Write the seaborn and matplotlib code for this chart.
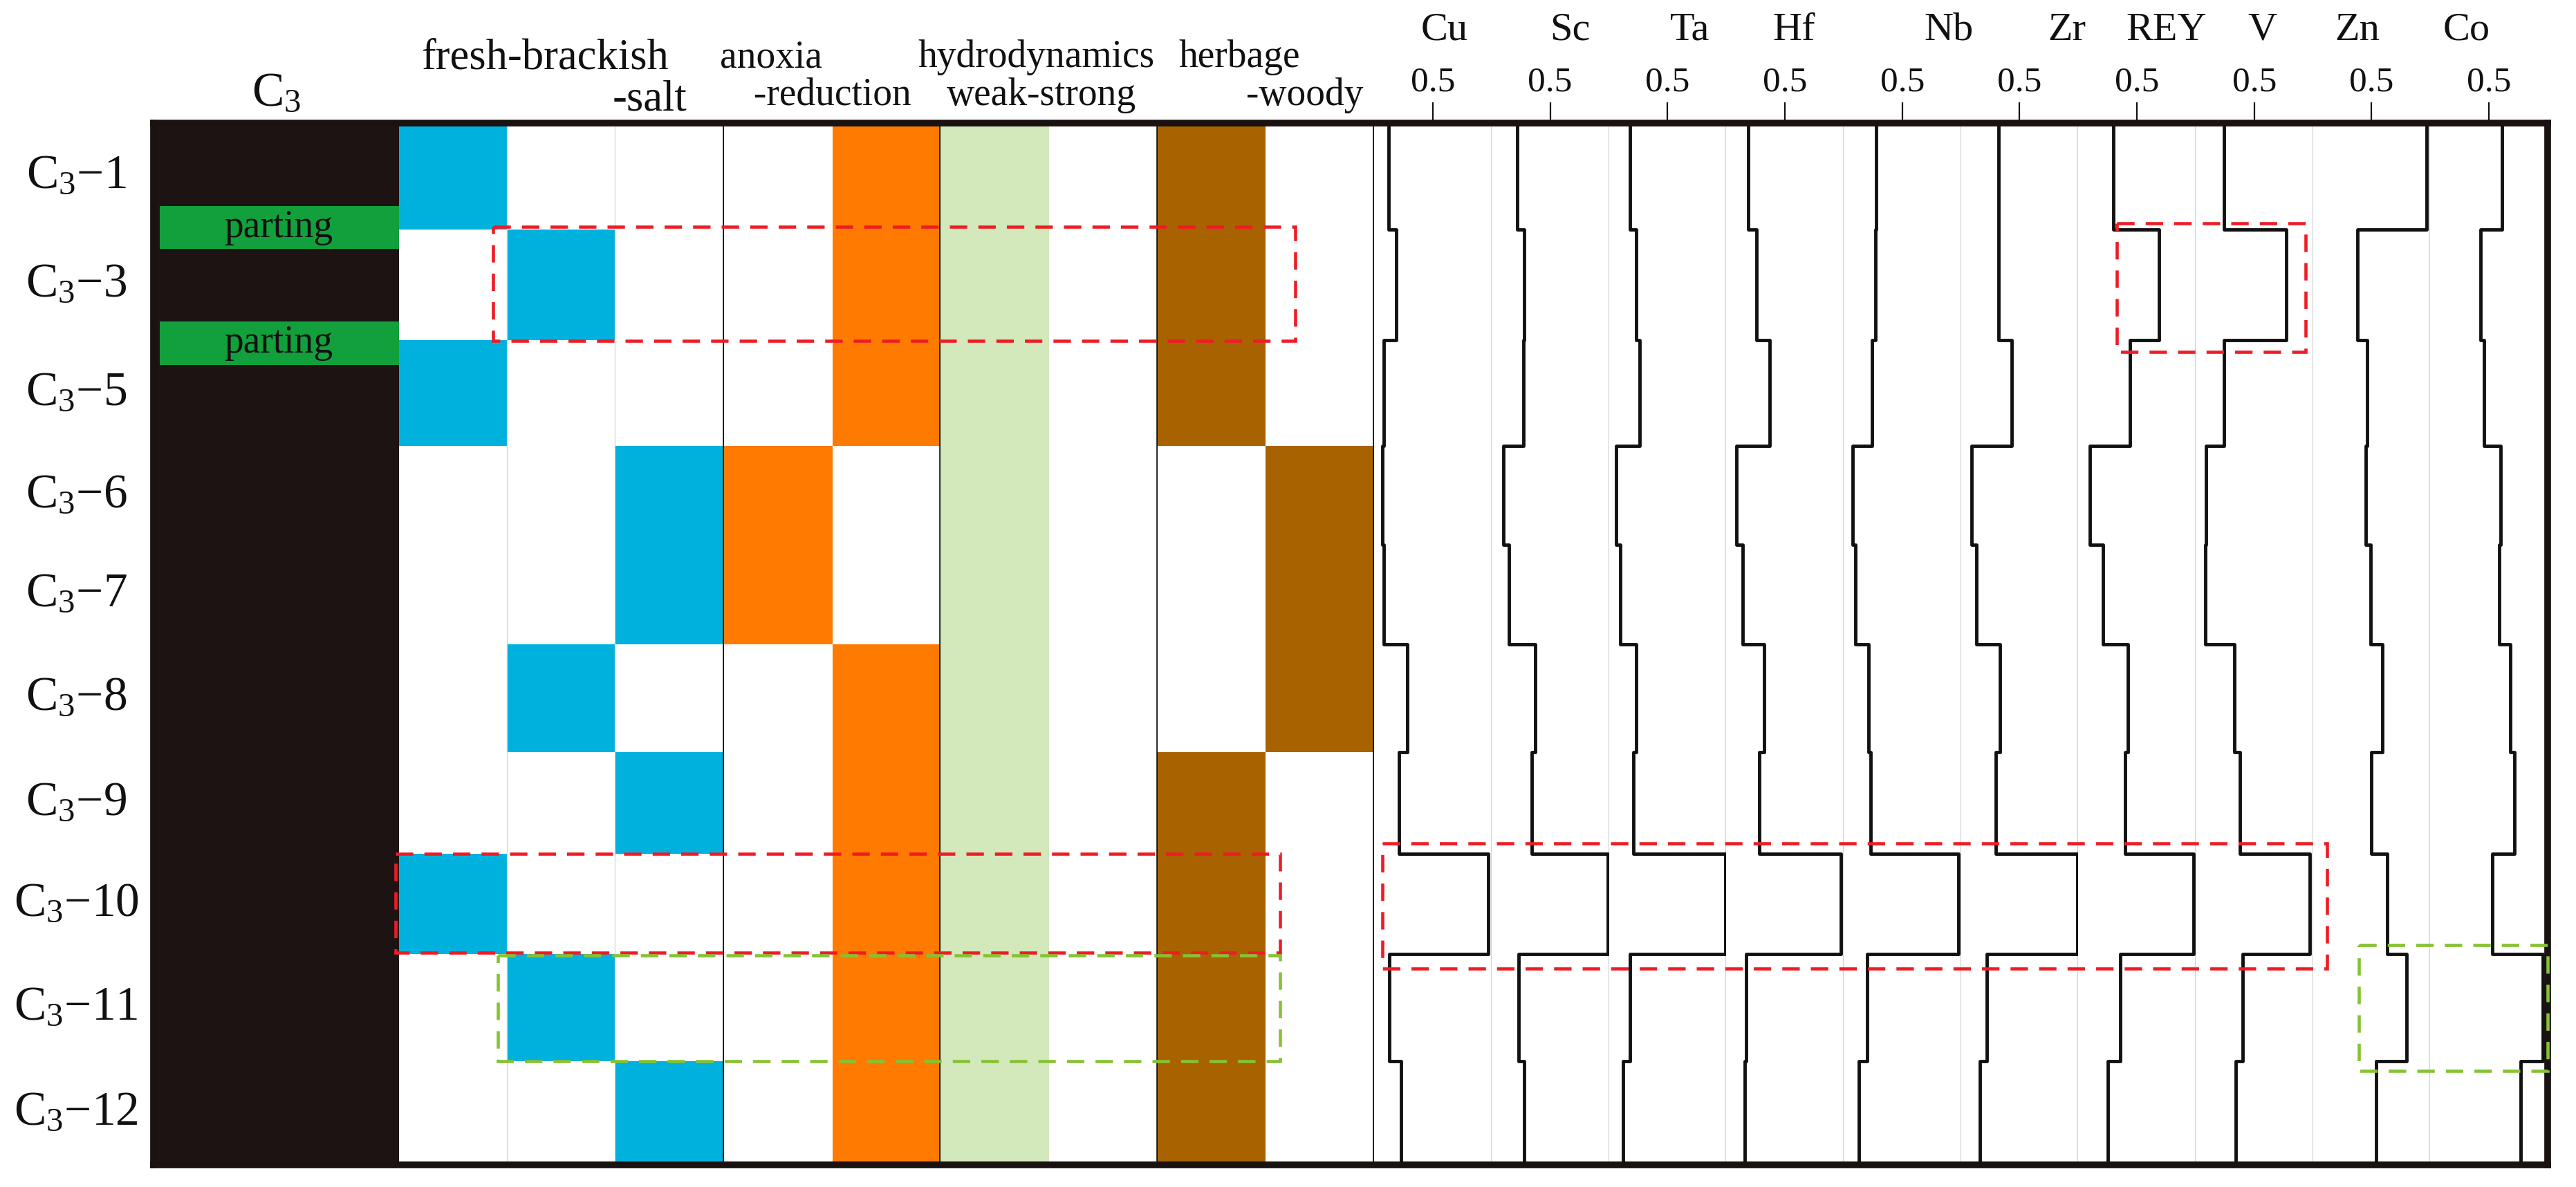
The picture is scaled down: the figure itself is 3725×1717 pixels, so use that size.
import matplotlib
matplotlib.use("Agg")
import matplotlib.pyplot as plt
from matplotlib.patches import Rectangle
from matplotlib.transforms import blended_transform_factory
import numpy as np
import pandas as pd
import seaborn as sns

# ---------------- data ----------------
sample_ids = ["1", "3", "5", "6", "7", "8", "9", "10", "11", "12"]
# depth boundaries of the sampled layers (arbitrary depth units, top -> bottom)
row_edges = [0, 154, 314, 467, 610, 754, 910, 1057, 1202, 1357, 1507]
# parting intervals (depth units)
partings = [(120, 182), (287, 350)]

salinity = ["fresh", "brackish", "fresh", "salt", "salt",
            "brackish", "salt", "fresh", "brackish", "salt"]
redox = ["reduction", "reduction", "reduction", "anoxia", "anoxia",
         "reduction", "reduction", "reduction", "reduction", "reduction"]
hydrodynamics = ["weak"] * 10
plant_source = ["herbage", "herbage", "herbage", "woody", "woody",
                "woody", "herbage", "herbage", "herbage", "herbage"]

elements = ["Cu", "Sc", "Ta", "Hf", "Nb", "Zr", "REY", "V", "Zn", "Co"]
cu = [0.12, 0.19, 0.08, 0.07, 0.08, 0.28, 0.21, 0.97, 0.13, 0.23]
sc = [0.22, 0.28, 0.27, 0.10, 0.15, 0.37, 0.34, 0.99, 0.23, 0.28]
ta = [0.18, 0.23, 0.26, 0.06, 0.10, 0.23, 0.21, 0.99, 0.18, 0.12]
hf = [0.19, 0.26, 0.37, 0.09, 0.14, 0.32, 0.28, 0.98, 0.17, 0.16]
nb = [0.28, 0.27, 0.24, 0.08, 0.10, 0.21, 0.23, 0.98, 0.20, 0.13]
zr = [0.32, 0.32, 0.43, 0.09, 0.13, 0.33, 0.30, 0.99, 0.22, 0.16]
rey = [0.30, 0.69, 0.44, 0.10, 0.21, 0.42, 0.40, 0.98, 0.36, 0.25]
v = [0.24, 0.77, 0.24, 0.09, 0.08, 0.33, 0.38, 0.97, 0.40, 0.34]
zn = [0.97, 0.38, 0.46, 0.45, 0.49, 0.59, 0.50, 0.63, 0.80, 0.54]
co = [0.61, 0.43, 0.46, 0.60, 0.59, 0.68, 0.72, 0.53, 0.96, 0.77]
element_values = [cu, sc, ta, hf, nb, zr, rey, v, zn, co]
tick_values = [0.5]
tick_labels = ["0.5"]

# ---------------- style ----------------
DARK = "#1d1313"
BLUE = "#00b1de"
ORANGE = "#ff7a00"
LGREEN = "#d3e8bb"
BROWN = "#a86300"
PGREEN = "#12a03c"
RED = "#ee1c25"
YGREEN = "#86c232"
GRAY = "#d0d0d0"
INK = "#111111"

sns.set_theme(style="white")
plt.rcParams["font.family"] = ["Liberation Serif", "DejaVu Serif"]
plt.rcParams["mathtext.fontset"] = "custom"
plt.rcParams["mathtext.rm"] = "Liberation Serif"
plt.rcParams["mathtext.it"] = "Liberation Serif:italic"
plt.rcParams["mathtext.bf"] = "Liberation Serif:bold"

W, H, DPI = 3725, 1717, 100
fig = plt.figure(figsize=(W / DPI, H / DPI), dpi=DPI, facecolor="white")

FX0, FX1, FY0, FY1 = 222, 3684, 178, 1685
col_keys = ["C3", "fresh", "brackish", "salt", "anoxia", "reduction",
            "weak", "strong", "herbage", "woody"] + elements
col_w = [355] + [156.7] * 9 + [169.7] * 10
gs = fig.add_gridspec(1, len(col_keys), left=FX0 / W, right=FX1 / W,
                      top=1 - FY0 / H, bottom=1 - FY1 / H,
                      width_ratios=col_w, wspace=0)

axs = {}
for i, key in enumerate(col_keys):
    ax = fig.add_subplot(gs[0, i])
    ax.set_facecolor("white")
    for s in ax.spines.values():
        s.set_visible(False)
    axs[key] = ax

# C3 column
c3 = axs["C3"]
c3.set_facecolor(DARK)
for top, bot in partings:
    c3.bar(0.025, bot - top, bottom=top, width=0.975, align="edge",
           color=PGREEN, linewidth=0, zorder=1)
    c3.text(0.51, (top + bot) / 2, "parting", ha="center", va="center",
            fontsize=40, color=INK, zorder=3)
tr = blended_transform_factory(c3.transAxes, c3.transData)
for i, sid in enumerate(sample_ids):
    yc = (row_edges[i] + row_edges[i + 1]) / 2
    c3.text(-0.315, yc, r"$\mathrm{C}_{3}$" + "\u2212" + sid, transform=tr,
            ha="center", va="center", fontsize=50, color=INK)

# categorical columns
groups = [(salinity, ["fresh", "brackish", "salt"], BLUE),
          (redox, ["anoxia", "reduction"], ORANGE),
          (hydrodynamics, ["weak", "strong"], LGREEN),
          (plant_source, ["herbage", "woody"], BROWN)]
for series, keys, color in groups:
    n = len(series)
    for key in keys:
        ax = axs[key]
        i = 0
        while i < n:
            if series[i] == key:
                j = i
                while j + 1 < n and series[j + 1] == key:
                    j += 1
                ax.bar(0, row_edges[j + 1] - row_edges[i], bottom=row_edges[i],
                       width=1, align="edge", color=color, linewidth=0, zorder=1)
                i = j + 1
            else:
                i += 1

# element profiles
for el, vals in zip(elements, element_values):
    ax = axs[el]
    xs, ys = [], []
    for i, val in enumerate(vals):
        xs += [val, val]
        ys += [row_edges[i], row_edges[i + 1]]
    df = pd.DataFrame({"value": xs, "depth": ys})
    sns.lineplot(data=df, x="value", y="depth", sort=False, estimator=None,
                 ax=ax, color=INK, linewidth=3.5, legend=False, zorder=2)
    ax.set_xlabel("")
    ax.set_ylabel("")
    ax.set_xticks(tick_values)
    ax.set_xticklabels(tick_labels)
    ax.tick_params(axis="x", which="both", top=True, labeltop=True,
                   bottom=False, labelbottom=False, direction="out",
                   length=21.6, width=1.6, pad=4, labelsize=37,
                   color=INK, labelcolor=INK)

for key, ax in axs.items():
    ax.set_xlim(0, 1)
    ax.set_ylim(row_edges[-1], row_edges[0])
    ax.set_yticks([])
    if key not in elements:
        ax.set_xticks([])

# separators
for key in ["fresh", "brackish"] + elements[:-1]:
    sp = axs[key].spines["right"]
    sp.set_visible(True)
    sp.set_color(GRAY)
    sp.set_linewidth(1.6)
    sp.set_zorder(1.5)
for key in ["salt", "reduction", "strong", "woody"]:
    sp = axs[key].spines["right"]
    sp.set_visible(True)
    sp.set_color(INK)
    sp.set_linewidth(3.3)
    sp.set_zorder(3)

# element names above the ticks
name_pos = [0.60, 0.67, 0.69, 0.58, 0.895, 0.90, 0.75, 0.57, 0.38, 0.31]
for el, fx in zip(elements, name_pos):
    axs[el].annotate(el, xy=(fx, 1), xycoords="axes fraction",
                     xytext=(0, 86.4), textcoords="offset points",
                     ha="center", va="baseline", fontsize=42, color=INK)

# header texts
def ftext(x, y, s, **kw):
    kw.setdefault("va", "baseline")
    kw.setdefault("color", INK)
    fig.text(x / W, 1 - y / H, s, **kw)

ftext(400, 152, r"$\mathrm{C}_{3}$", ha="center", fontsize=50)
ftext(609, 100, "fresh-brackish", ha="left", fontsize=45)
ftext(993, 160, "-salt", ha="right", fontsize=45)
ftext(1041, 97, "anoxia", ha="left", fontsize=40)
ftext(1090, 152, "-reduction", ha="left", fontsize=40)
ftext(1327, 97, "hydrodynamics", ha="left", fontsize=40)
ftext(1369, 152, "weak-strong", ha="left", fontsize=40)
ftext(1704, 97, "herbage", ha="left", fontsize=40)
ftext(1972, 152, "-woody", ha="right", fontsize=40)

# overlay: frame + dashed highlight boxes
ov = fig.add_axes([FX0 / W, 1 - FY1 / H, (FX1 - FX0) / W, (FY1 - FY0) / H])
ov.set_zorder(10)
ov.patch.set_visible(False)
total_w = float(np.sum(col_w))
ov.set_xlim(0, total_w)
ov.set_ylim(row_edges[-1], row_edges[0])
ov.set_xticks([])
ov.set_yticks([])
for s in ov.spines.values():
    s.set_visible(True)
    s.set_linewidth(7)
    s.set_color("#1a1111")

col_left = np.concatenate([[0], np.cumsum(col_w)])

def colx(key, frac):
    i = col_keys.index(key)
    return col_left[i] + frac * col_w[i]

def hbox(ka, fa, kb, fb, row, pad_top, pad_bot, color):
    x0 = colx(ka, fa)
    x1 = colx(kb, fb)
    y0 = row_edges[row] - pad_top
    y1 = row_edges[row + 1] + pad_bot
    ov.add_patch(Rectangle((x0, y0), x1 - x0, y1 - y0, fill=False,
                           edgecolor=color, linewidth=3.3,
                           linestyle=(0, (5.5, 3.5)), zorder=4, clip_on=False))

hbox("fresh", 0.87, "woody", 0.27, 1, 4, 1, RED)
hbox("REY", 0.33, "V", 0.94, 1, 9, 17, RED)
hbox("C3", 0.986, "woody", 0.13, 7, 0, -2, RED)
hbox("Cu", 0.07, "Zn", 0.12, 7, 15, 21, RED)
hbox("fresh", 0.91, "woody", 0.13, 8, -2, 0, YGREEN)
hbox("Zn", 0.39, "Co", 1.0, 8, 13, 14, YGREEN)

fig.savefig("out.png", dpi=DPI, facecolor="white")
